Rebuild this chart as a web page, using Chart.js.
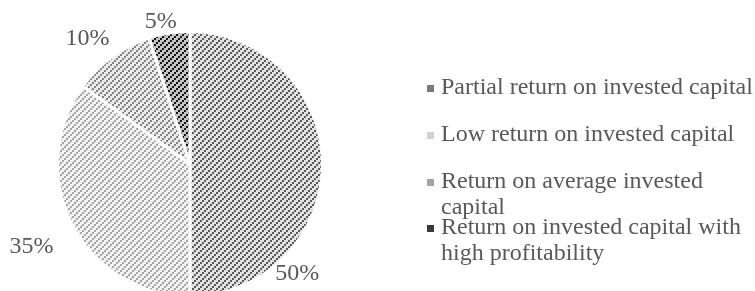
<!DOCTYPE html>
<html>
<head>
<meta charset="utf-8">
<script src="https://cdn.jsdelivr.net/npm/chart.js@4.4.0/dist/chart.umd.min.js"></script>
<style>
  body { margin: 0; background: #fff; }
  #quadro { width: 755px; height: 291px; overflow: hidden; }
</style>
</head>
<body>
<div id="quadro"><canvas id="pieChart" width="755" height="300"></canvas></div>
<script>
// categorias e valores
const categorias = [
  'Partial return on invested capital',
  'Low return on invested capital',
  ['Return on average invested', 'capital'],
  ['Return on invested capital with', 'high profitability']
];
const percentuais = [50, 35, 10, 5];
const rotulos = ['50%', '35%', '10%', '5%'];

// hachuras: [fundo, listra]
const hachuras = [
  ['#e2e2e2', '#5a5a5a'],
  ['#f2f2f2', '#a6a6a6'],
  ['#ebebeb', '#858585'],
  ['#c4c4c4', '#141414']
];
const corLegenda = ['#7a7a7a', '#d2d2d2', '#a4a4a4', '#3a3a3a'];

// posição dos rótulos em relação ao centro (em raios)
const posRotulos = [[0.81, 0.826], [-1.197, 0.621], [-0.773, -0.947], [-0.22, -1.076]];

function criaHachura(fundo, listra) {
  const c = document.createElement('canvas');
  c.width = 6; c.height = 6;
  const g = c.getContext('2d');
  g.fillStyle = fundo;
  g.fillRect(0, 0, 6, 6);
  g.fillStyle = listra;
  for (let x = 0; x < 6; x++) {
    for (let y = 0; y < 6; y++) {
      if ((Math.floor(x / 2) + Math.floor(y / 2)) % 3 === 0) g.fillRect(x, y, 1, 1);
    }
  }
  return g.createPattern(c, 'repeat');
}

const ctx = document.getElementById('pieChart').getContext('2d');
const padroes = hachuras.map(h => criaHachura(h[0], h[1]));

const rotulosPlugin = {
  id: 'rotulos',
  afterDatasetsDraw(chart) {
    const c = chart.ctx;
    const arcos = chart.getDatasetMeta(0).data;
    c.save();
    c.font = '24px "Liberation Serif", "Times New Roman", serif';
    c.fillStyle = '#595959';
    c.textAlign = 'center';
    c.textBaseline = 'middle';
    arcos.forEach((arco, i) => {
      const r = arco.outerRadius;
      c.fillText(rotulos[i], arco.x + posRotulos[i][0] * r, arco.y + posRotulos[i][1] * r);
    });
    c.restore();
  }
};

const legendaPlugin = {
  id: 'legendaManual',
  afterDraw(chart) {
    const c = chart.ctx;
    const ys = [88, 135, 182, 228];
    c.save();
    c.font = '24px "Liberation Serif", "Times New Roman", serif';
    c.textBaseline = 'middle';
    c.textAlign = 'left';
    categorias.forEach((cat, i) => {
      const linhas = Array.isArray(cat) ? cat : [cat];
      c.fillStyle = corLegenda[i];
      c.fillRect(427, ys[i] - 3, 7, 7);
      c.fillStyle = '#595959';
      linhas.forEach((l, j) => c.fillText(l, 441, ys[i] + j * 26));
    });
    c.restore();
  }
};

new Chart(ctx, {
  type: 'pie',
  data: {
    labels: categorias,
    datasets: [{
      data: percentuais,
      backgroundColor: padroes,
      borderColor: '#ffffff',
      borderWidth: 3
    }]
  },
  options: {
    responsive: false,
    animation: false,
    layout: { padding: { left: 56, right: 431, top: 30, bottom: 2 } },
    plugins: {
      legend: { display: false },
      tooltip: { enabled: false }
    }
  },
  plugins: [rotulosPlugin, legendaPlugin]
});
</script>
</body>
</html>
